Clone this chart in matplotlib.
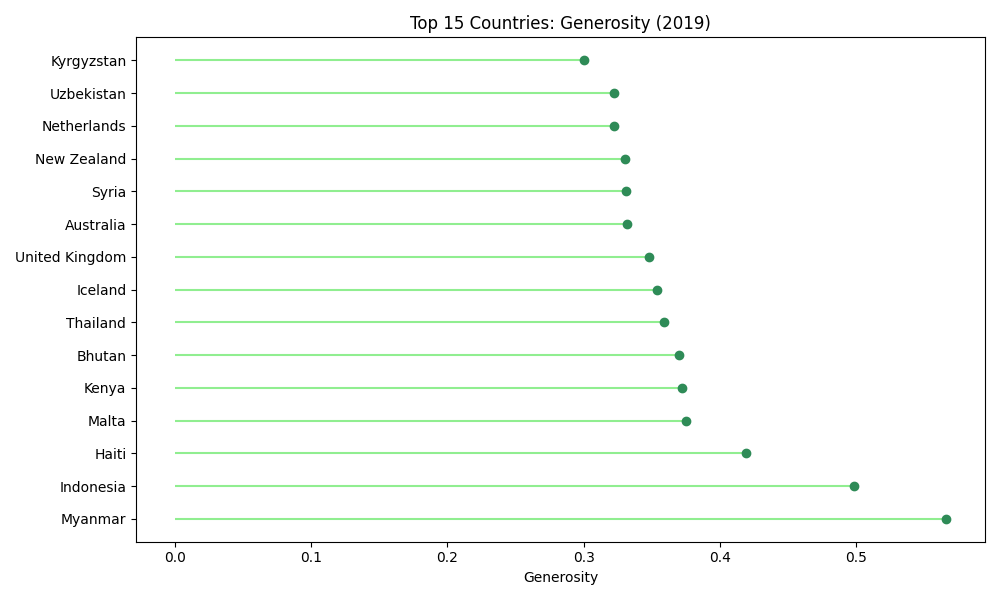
import matplotlib
matplotlib.use("Agg")
import matplotlib.pyplot as plt

countries = ["Myanmar", "Indonesia", "Haiti", "Malta", "Kenya", "Bhutan", "Thailand",
             "Iceland", "United Kingdom", "Australia", "Syria", "New Zealand",
             "Netherlands", "Uzbekistan", "Kyrgyzstan"]
generosity = [0.566, 0.498, 0.419, 0.375, 0.372, 0.370, 0.359, 0.354, 0.348,
              0.332, 0.331, 0.330, 0.322, 0.322, 0.300]

fig, ax = plt.subplots(figsize=(10, 6), dpi=100)
ax.hlines(y=countries, xmin=0, xmax=generosity, color="lightgreen")
ax.plot(generosity, countries, "o", color="seagreen")
ax.set_xlabel("Generosity")
ax.set_title("Top 15 Countries: Generosity (2019)")
fig.tight_layout()
fig.savefig("out.png")
